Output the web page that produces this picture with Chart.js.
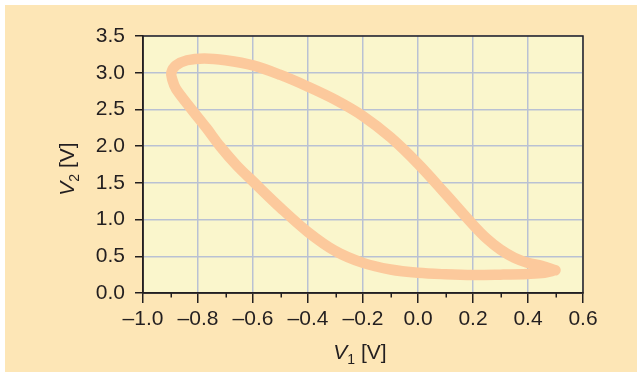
<!DOCTYPE html>
<html>
<head>
<meta charset="utf-8">
<script src="https://cdn.jsdelivr.net/npm/chart.js@4"></script>
<style>
  html, body { margin: 0; padding: 0; background: #ffffff; }
  #wrap { position: relative; width: 642px; height: 376px; }
</style>
</head>
<body>
<div id="wrap"><canvas id="c" width="642" height="376"></canvas></div>
<script>
// Loop traced in the V1–V2 plane (closed: last point repeats the first)
const v1Values = [0.50, 0.45, 0.40, 0.35, 0.30, 0.25, 0.20, 0.10, 0.00, -0.10, -0.20, -0.30, -0.40, -0.50,
                  -0.60, -0.70, -0.777, -0.84, -0.88, -0.897, -0.893, -0.88, -0.823, -0.77, -0.72, -0.66, -0.60,
                  -0.50, -0.40, -0.30, -0.20, -0.10, 0.00, 0.10, 0.20, 0.30, 0.40, 0.46, 0.50];
const v2Values = [0.31, 0.37, 0.41, 0.48, 0.59, 0.74, 0.93, 1.35, 1.76, 2.12, 2.41, 2.63, 2.81, 2.97,
                  3.10, 3.17, 3.195, 3.17, 3.10, 3.00, 2.90, 2.78, 2.50, 2.25, 2.00, 1.74, 1.52,
                  1.16, 0.83, 0.57, 0.41, 0.32, 0.275, 0.255, 0.245, 0.25, 0.26, 0.275, 0.31];

const xTicks = [-1.0, -0.8, -0.6, -0.4, -0.2, 0.0, 0.2, 0.4, 0.6];
const xMinorTicks = [-0.9, -0.7, -0.5, -0.3, -0.1, 0.1, 0.3, 0.5];
const yTicks = [0.0, 0.5, 1.0, 1.5, 2.0, 2.5, 3.0, 3.5];

const INK = '#231f20';
const GRID = '#b9c1d3';
const FONT = '"Liberation Sans", Arial, Helvetica, sans-serif';

function fmt(v) {
  if (Math.abs(v) < 1e-9) v = 0;
  return v.toFixed(1).replace('-', '\u2013');
}

// Draws "V" (italic) + subscript + " [V]" centred on (0,0) baseline
function drawAxisTitle(ctx, sub) {
  const big = '21px ' + FONT;
  const bigIt = 'italic 21px ' + FONT;
  const small = '14px ' + FONT;
  ctx.font = bigIt; const wV = ctx.measureText('V').width;
  ctx.font = small; const wS = ctx.measureText(sub).width;
  ctx.font = big; const wR = ctx.measureText(' [V]').width;
  let x = -(wV + wS + wR) / 2;
  ctx.textAlign = 'left';
  ctx.textBaseline = 'alphabetic';
  ctx.fillStyle = INK;
  ctx.font = bigIt; ctx.fillText('V', x, 0); x += wV;
  ctx.font = small; ctx.fillText(sub, x, 5); x += wS;
  ctx.font = big; ctx.fillText(' [V]', x, 0);
}

const decor = {
  id: 'decor',
  beforeDraw(chart) {
    const ctx = chart.ctx;
    const a = chart.chartArea;
    ctx.save();
    ctx.fillStyle = '#ffffff';
    ctx.fillRect(0, 0, chart.width, chart.height);
    ctx.fillStyle = '#fde6b6';
    ctx.fillRect(5, 5, 632, 367);
    ctx.fillStyle = '#faf6cc';
    ctx.fillRect(a.left, a.top, a.right - a.left, a.bottom - a.top);
    ctx.restore();
  },
  afterDraw(chart) {
    const ctx = chart.ctx;
    const a = chart.chartArea;
    const xs = chart.scales.x;
    ctx.save();
    // frame around the plot area
    ctx.strokeStyle = INK;
    ctx.lineWidth = 1.5;
    ctx.strokeRect(a.left, a.top, a.right - a.left, a.bottom - a.top);
    // minor ticks on the V1 axis
    ctx.beginPath();
    xMinorTicks.forEach(v => {
      const px = Math.round(xs.getPixelForValue(v)) + 0.25;
      ctx.moveTo(px, a.bottom);
      ctx.lineTo(px, a.bottom + 4.5);
    });
    ctx.stroke();
    // axis titles
    ctx.translate((a.left + a.right) / 2 - 3, 359);
    drawAxisTitle(ctx, '1');
    ctx.restore();
    ctx.save();
    ctx.translate(74, 169);
    ctx.rotate(-Math.PI / 2);
    drawAxisTitle(ctx, '2');
    ctx.restore();
  }
};

new Chart(document.getElementById('c'), {
  type: 'scatter',
  data: {
    datasets: [{
      data: v1Values.map((x, i) => ({ x, y: v2Values[i] })),
      showLine: true,
      borderColor: '#fcc99c',
      borderWidth: 10.5,
      borderJoinStyle: 'round',
      borderCapStyle: 'round',
      tension: 0.35,
      pointRadius: 0,
      pointHoverRadius: 0,
      clip: false
    }]
  },
  options: {
    responsive: false,
    maintainAspectRatio: false,
    devicePixelRatio: 1,
    animation: false,
    events: [],
    layout: { padding: { top: 36, right: 59, left: 0, bottom: 0 } },
    plugins: { legend: { display: false }, tooltip: { enabled: false }, title: { display: false } },
    scales: {
      x: {
        type: 'linear',
        min: -1.0,
        max: 0.6,
        afterBuildTicks: s => { s.ticks = xTicks.map(v => ({ value: v })); },
        afterFit: s => { s.height = 83; },
        grid: { color: GRID, lineWidth: 1.5, tickColor: INK, tickWidth: 1.5, tickLength: 10, drawTicks: true },
        border: { display: true, color: INK, width: 1.5 },
        ticks: {
          autoSkip: false, maxRotation: 0, minRotation: 0, padding: 4,
          color: INK, font: { family: FONT, size: 21 },
          callback: v => fmt(v)
        }
      },
      y: {
        type: 'linear',
        min: 0,
        max: 3.5,
        afterBuildTicks: s => { s.ticks = yTicks.map(v => ({ value: v })); },
        afterFit: s => { s.width = 143; },
        grid: { color: GRID, lineWidth: 1.5, tickColor: INK, tickWidth: 1.5, tickLength: 8, drawTicks: true },
        border: { display: true, color: INK, width: 1.5 },
        ticks: {
          autoSkip: false, padding: 10,
          color: INK, font: { family: FONT, size: 21 },
          callback: v => fmt(v)
        }
      }
    }
  },
  plugins: [decor]
});
</script>
</body>
</html>
